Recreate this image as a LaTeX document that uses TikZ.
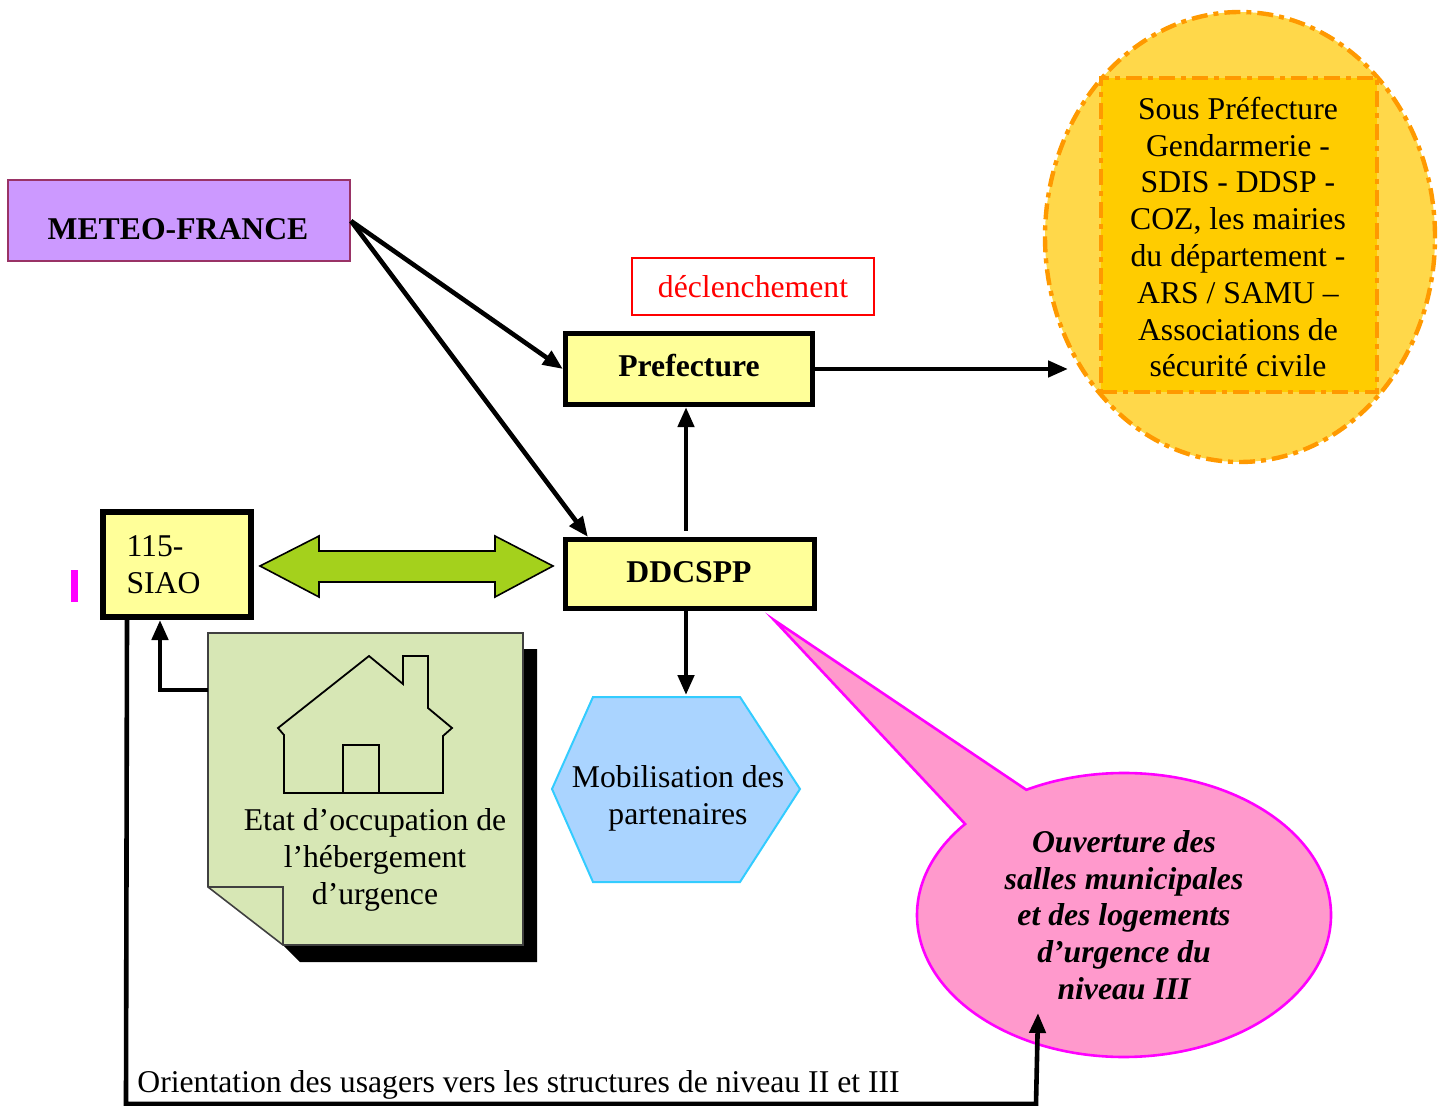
\documentclass[tikz,border=0pt]{standalone}
\usepackage{fontspec}
\setmainfont{Liberation Serif}
\usetikzlibrary{arrows.meta,calc,shapes.geometric,shapes.callouts}
\definecolor{meteofill}{HTML}{CC99FF}
\definecolor{meteob}{HTML}{993366}
\definecolor{boxyellow}{HTML}{FFFF99}
\definecolor{orangeb}{HTML}{FF9900}
\definecolor{orangeout}{HTML}{FFD84A}
\definecolor{orangein}{HTML}{FFCC00}
\definecolor{hexfill}{HTML}{AAD4FF}
\definecolor{hexb}{HTML}{33CCFF}
\definecolor{greenfill}{HTML}{A4D11C}
\definecolor{notefill}{HTML}{D7E7B5}
\definecolor{pinkfill}{HTML}{FF99CC}
\definecolor{pinkb}{HTML}{FF00FF}
\begin{document}
\begin{tikzpicture}[x=0.5pt,y=-0.5pt,
  txt/.style={font=\fontsize{15.85}{18.4}\selectfont},
  btxt/.style={font=\fontsize{15.85}{18.4}\selectfont\bfseries},
  bitxt/.style={font=\fontsize{15.85}{18.4}\selectfont\bfseries\itshape},
  ybox/.style={draw=black, line width=2.6pt, fill=boxyellow, inner sep=0pt, btxt},
  arr/.style={line width=2.3pt, -{Triangle[length=10pt,width=8pt]}},
  dashdot/.style={dash pattern=on 8pt off 3pt on 2.5pt off 3pt},
]
\useasboundingbox (0,0) rectangle (1445,1106);

% METEO-FRANCE
\node[draw=meteob, line width=1pt, fill=meteofill, minimum width=171pt, minimum height=40.5pt, inner sep=0pt] (meteo) at (179,221) {};
\node[btxt, inner sep=0pt] (meteotxt) at (178,229) {METEO-FRANCE};

% declenchement
\node[draw=red, line width=0.6pt, text=red, txt, minimum width=121pt, minimum height=28.5pt, inner sep=0pt] (decl) at (753,286.5) {déclenchement};

% Prefecture and DDCSPP
\node[ybox, minimum width=123.5pt, minimum height=35.5pt] (pref) at (689,369) {};
\node[btxt, inner sep=0pt] (preftxt) at (689,366) {Prefecture};
\node[ybox, minimum width=124.5pt, minimum height=34.5pt] (dd) at (690,574) {};
\node[btxt, inner sep=0pt] (ddtxt) at (689,572) {DDCSPP};

% 115-SIAO
\node[draw=black, line width=3pt, fill=boxyellow, txt, align=left, text width=50pt, inner xsep=12pt, inner ysep=0pt, minimum height=52.5pt] (siao) at (176.5,564.5) {115-\\SIAO};
\node[fill=pinkb, minimum width=3.5pt, minimum height=16pt, inner sep=0pt] (mark) at (74.5,586) {};

% orange ellipse
\node[ellipse, draw=orangeb, line width=2.2pt, dashdot, fill=orangeout, minimum width=195pt, minimum height=225pt, inner sep=0pt] (org) at (1240,237) {};
\node[draw=orangeb, line width=2.2pt, dashdot, fill=orangein, minimum width=138pt, minimum height=157pt, inner sep=0pt] (orgbox) at (1239,235) {};
\node[txt, align=center, inner sep=0pt] (orgtxt) at (1238,237) {Sous Préfecture\\Gendarmerie -\\SDIS - DDSP -\\COZ, les mairies\\du département -\\ARS / SAMU –\\Associations de\\sécurité civile};

% green double arrow
\draw[fill=greenfill, draw=black, line width=0.8pt] (260,566) -- (319,536) -- (319,551) -- (495,551) -- (495,536) -- (553,566) -- (495,597) -- (495,582) -- (319,582) -- (319,597) -- cycle;

% note with house
\fill[black] (523,649) -- (537,649) -- (537,962) -- (300,962) -- (283,945) -- (523,945) -- cycle;
\draw[fill=notefill, draw=black!75, line width=0.8pt] (208,633) -- (523,633) -- (523,945) -- (283,945) -- (208,887) -- cycle;
\draw[draw=black!75, line width=0.8pt] (208,887) -- (283,887) -- (283,945);
\draw[line width=0.9pt, line join=miter] (284,793) -- (284,735) -- (278,728) -- (369,656) -- (403,684) -- (403,656) -- (428,656) -- (428,708) -- (452,728) -- (443,736) -- (443,793) -- cycle;
\draw[line width=0.9pt] (343,793) -- (343,745) -- (379,745) -- (379,793);
\node[txt, align=center, inner sep=0pt] (etat) at (375,860) {Etat d’occupation de\\l’hébergement\\d’urgence};

% hexagon
\draw[fill=hexfill, draw=hexb, line width=1pt] (593,697) -- (740,697) -- (800,789) -- (740,882) -- (593,882) -- (552,789) -- cycle;
\node[txt, align=center, inner sep=0pt] (mob) at (678,798) {Mobilisation des\\partenaires};
\coordinate (hextop) at (686,695);

% pink callout
\node[ellipse callout, draw=pinkb, fill=pinkfill, line width=1.3pt, minimum width=207pt, minimum height=142pt, inner sep=0pt, callout absolute pointer={(774,620)}, callout pointer arc=22, bitxt, align=center] (callout) at (1124,915) {Ouverture des\\salles municipales\\et des logements\\d’urgence du\\niveau III};

% bottom text
\node[txt, anchor=west, inner sep=0pt] (orient) at (137,1085) {Orientation des usagers vers les structures de niveau II et III};

% connectors
\coordinate (ax) at (686,0);
\coordinate (tipx) at (1068,0);
\coordinate (nL) at (208,690);
\coordinate (sx) at (160,0);
\coordinate (ox) at (127,0);
\coordinate (oL) at (126,1104);
\coordinate (oR) at (1036,1104);
\coordinate (oT) at (1038,1013);

\draw[arr] (meteo.east) -- (pref.west);
\draw[arr] (meteo.east) -- ($(dd.north west)+(25,0)$);
\draw[arr, shorten <=3pt] (dd.north -| ax) -- (pref.south -| ax);
\draw[arr] (dd.south -| ax) -- (hextop);
\draw[arr] (pref.east) -- (pref.east -| tipx);
\draw[arr] (nL) -| (siao.south -| sx);
\draw[arr] (siao.south -| ox) -- (oL) -- (oR) -- (oT);
\end{tikzpicture}
\end{document}
